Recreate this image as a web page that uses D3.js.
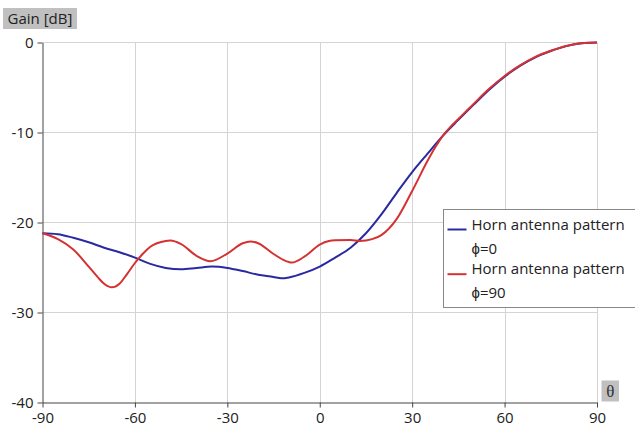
<!DOCTYPE html>
<html>
<head>
<meta charset="utf-8">
<script src="https://cdn.jsdelivr.net/npm/d3@7"></script>
<style>
  body { margin: 0; background: #fff; }
  svg { display: block; font-family: 'Open Sans', sans-serif; }
</style>
</head>
<body>
<div id="chart"></div>
<script>
  // Data
  const xTicks = [-90, -60, -30, 0, 30, 60, 90];
  const yTicks = [-40, -30, -20, -10, 0];

  const theta0 = [-90, -85, -80, -75, -70, -65, -60, -55, -50, -45, -40, -35, -30, -25, -20, -15, -12.5, -10, -5, 0, 5, 10, 15, 20, 25, 30, 35, 40, 45, 50, 55, 60, 65, 70, 75, 80, 85, 90];
  const gain0 = [-21.2, -21.3, -21.7, -22.2, -22.8, -23.3, -23.9, -24.6, -25.05, -25.2, -25.05, -24.9, -25.05, -25.4, -25.8, -26.05, -26.2, -26.1, -25.6, -24.9, -23.9, -22.8, -21.2, -19.1, -16.7, -14.4, -12.35, -10.35, -8.6, -6.9, -5.25, -3.8, -2.6, -1.65, -0.95, -0.4, -0.08, 0];

  const theta90 = [-90, -85, -80, -75, -72, -70, -67.5, -65, -62.5, -60, -57.5, -55, -50, -48.5, -45, -40, -35.5, -30, -25, -22.5, -20, -15, -10, -9, -5, 0, 3, 5, 10, 13, 17, 20, 25, 30, 35, 37.5, 40, 42.5, 45, 50, 55, 60, 65, 70, 75, 80, 85, 90];
  const gain90 = [-21.2, -21.85, -23.0, -24.9, -26.1, -26.8, -27.2, -26.8, -25.7, -24.5, -23.5, -22.7, -22.05, -22.0, -22.4, -23.7, -24.3, -23.45, -22.3, -22.1, -22.3, -23.5, -24.4, -24.45, -23.8, -22.45, -22.05, -21.98, -21.95, -22.05, -21.85, -21.4, -19.6, -16.5, -13.15, -11.65, -10.35, -9.35, -8.5, -6.8, -5.15, -3.72, -2.55, -1.6, -0.92, -0.38, -0.07, 0];

  const series = [
    { name: 'Horn antenna pattern', sub: '\u03d5=0', color: '#2a2aa0', x: theta0, y: gain0 },
    { name: 'Horn antenna pattern', sub: '\u03d5=90', color: '#d43232', x: theta90, y: gain90 },
  ];

  const WIDTH = 635;
  const HEIGHT = 427;

  const x = d3.scaleLinear().domain([-90, 90]).range([42.5, 597]);
  const y = d3.scaleLinear().domain([-40, 0]).range([402.5, 42.5]);

  const svg = d3
    .select('#chart')
    .append('svg')
    .attr('width', WIDTH)
    .attr('height', HEIGHT)
    .attr('viewBox', `0 0 ${WIDTH} ${HEIGHT}`);

  // Grid
  svg
    .append('g')
    .selectAll('line')
    .data(xTicks.slice(1))
    .join('line')
    .attr('x1', (d) => Math.round(x(d)) + 0.5)
    .attr('x2', (d) => Math.round(x(d)) + 0.5)
    .attr('y1', y(0))
    .attr('y2', y(-40))
    .attr('stroke', '#d4d4d4');

  svg
    .append('g')
    .selectAll('line')
    .data(yTicks.slice(1))
    .join('line')
    .attr('x1', x(-90))
    .attr('x2', x(90))
    .attr('y1', (d) => y(d))
    .attr('y2', (d) => y(d))
    .attr('stroke', '#d4d4d4');

  // Axes (plain hyphen minus, like the original)
  const fmt = (d) => String(d);

  const xAxis = svg
    .append('g')
    .attr('transform', `translate(0,${y(-40)})`)
    .call(d3.axisBottom(x).tickValues(xTicks).tickFormat(fmt).tickSize(5).tickSizeOuter(0).tickPadding(3));

  const yAxis = svg
    .append('g')
    .attr('transform', `translate(${x(-90)},0)`)
    .call(d3.axisLeft(y).tickValues(yTicks).tickFormat(fmt).tickSize(5).tickSizeOuter(0).tickPadding(4));

  [xAxis, yAxis].forEach((g) => {
    g.select('.domain').attr('stroke', '#444');
    g.selectAll('.tick line').attr('stroke', '#444');
    g.selectAll('.tick text')
      .attr('fill', '#222')
      .style('font-family', "'Open Sans', sans-serif")
      .style('font-size', '15px');
  });
  xAxis.selectAll('.tick text').attr('dy', '0.85em');

  // Curves
  const line = d3
    .line()
    .x((d) => x(d[0]))
    .y((d) => y(d[1]))
    .curve(d3.curveMonotoneX);

  series.forEach((s) => {
    svg
      .append('path')
      .datum(s.x.map((t, i) => [t, s.y[i]]))
      .attr('fill', 'none')
      .attr('stroke', s.color)
      .attr('stroke-width', 2)
      .attr('d', line);
  });

  // Axis titles
  const gainTitle = svg.append('g');
  gainTitle
    .append('rect')
    .attr('x', 3)
    .attr('y', 8)
    .attr('width', 74)
    .attr('height', 21)
    .attr('fill', '#c0c0c0');
  gainTitle
    .append('text')
    .attr('x', 40)
    .attr('y', 24)
    .attr('text-anchor', 'middle')
    .attr('fill', '#222')
    .style('font-size', '15px')
    .text('Gain [dB]');

  const thetaTitle = svg.append('g');
  thetaTitle
    .append('rect')
    .attr('x', 601.5)
    .attr('y', 380.5)
    .attr('width', 17.5)
    .attr('height', 21)
    .attr('fill', '#c0c0c0');
  thetaTitle
    .append('text')
    .attr('x', 610.25)
    .attr('y', 397)
    .attr('text-anchor', 'middle')
    .attr('fill', '#333')
    .style('font-family', "'Liberation Serif', serif")
    .style('font-size', '17px')
    .text('\u03b8');

  // Legend
  const legend = svg.append('g');
  legend
    .append('rect')
    .attr('x', 443.5)
    .attr('y', 209.5)
    .attr('width', 200)
    .attr('height', 98)
    .attr('fill', '#fff')
    .attr('stroke', '#888');

  series.forEach((s, i) => {
    const ly = 229.5 + i * 44.7;
    legend
      .append('line')
      .attr('x1', 447.5)
      .attr('x2', 466.5)
      .attr('y1', ly)
      .attr('y2', ly)
      .attr('stroke', s.color)
      .attr('stroke-width', 2);
    legend
      .append('text')
      .attr('x', 471.5)
      .attr('y', ly)
      .attr('fill', '#222')
      .style('font-size', '15px')
      .text(s.name);
    legend
      .append('text')
      .attr('x', 471.5)
      .attr('y', ly + 24)
      .attr('fill', '#222')
      .style('font-size', '15px')
      .text(s.sub);
  });
</script>
</body>
</html>
